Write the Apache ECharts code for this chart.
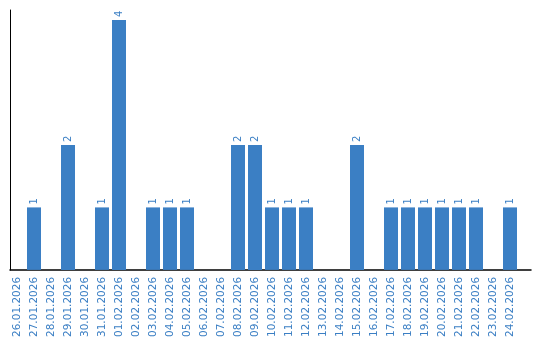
<!DOCTYPE html>
<html>
<head>
<meta charset="utf-8">
<script src="https://cdn.jsdelivr.net/npm/echarts@6/dist/echarts.min.js"></script>
<style>html,body{margin:0;padding:0;background:#fff}#c{width:540px;height:340px}</style>
</head>
<body>
<div id="c"></div>
<script>
const categories = ["26.01.2026","27.01.2026","28.01.2026","29.01.2026","30.01.2026","31.01.2026","01.02.2026","02.02.2026","03.02.2026","04.02.2026","05.02.2026","06.02.2026","07.02.2026","08.02.2026","09.02.2026","10.02.2026","11.02.2026","12.02.2026","13.02.2026","14.02.2026","15.02.2026","16.02.2026","17.02.2026","18.02.2026","19.02.2026","20.02.2026","21.02.2026","22.02.2026","23.02.2026","24.02.2026"];
const counts = [0,1,0,2,0,1,4,0,1,1,1,0,0,2,2,1,1,1,0,0,2,0,1,1,1,1,1,1,0,1];
const yMax = 4.16;

const blue = '#3b7fc4';
const chart = echarts.init(document.getElementById('c'), null, {renderer: 'canvas'});
chart.setOption({
  animation: false,
  textStyle: {fontFamily: 'DejaVu Sans'},
  grid: [
    {left: 8.5, width: 510, top: 10, bottom: 70, containLabel: false},
    {left: 10, right: 9, top: 10, bottom: 70, containLabel: false}
  ],
  xAxis: [
    {gridIndex: 0, type: 'category', data: categories,
     axisLine: {show: false}, axisTick: {show: false}, splitLine: {show: false},
     axisLabel: {rotate: 90, margin: 7, color: blue, fontSize: 10.5, fontFamily: 'DejaVu Sans', interval: 0}},
    {gridIndex: 1, type: 'value', min: 0, max: 1,
     axisLine: {show: true, onZero: false, lineStyle: {color: '#000', width: 1.5}},
     axisTick: {show: false}, axisLabel: {show: false}, splitLine: {show: false}}
  ],
  yAxis: [
    {gridIndex: 0, type: 'value', min: 0, max: yMax,
     axisLine: {show: false}, axisTick: {show: false}, axisLabel: {show: false}, splitLine: {show: false}},
    {gridIndex: 1, type: 'value', min: 0, max: 1,
     axisLine: {show: true, onZero: false, lineStyle: {color: '#000', width: 1}},
     axisTick: {show: false}, axisLabel: {show: false}, splitLine: {show: false}}
  ],
  series: [{
    type: 'bar', xAxisIndex: 0, yAxisIndex: 0,
    data: counts, barWidth: 14,
    itemStyle: {color: blue},
    label: {show: true, position: 'top', rotate: 90, align: 'left', verticalAlign: 'middle',
      distance: 3, color: blue, fontSize: 10, fontFamily: 'DejaVu Sans',
      formatter: p => p.value ? String(p.value) : ''}
  }]
});
</script>
</body>
</html>
